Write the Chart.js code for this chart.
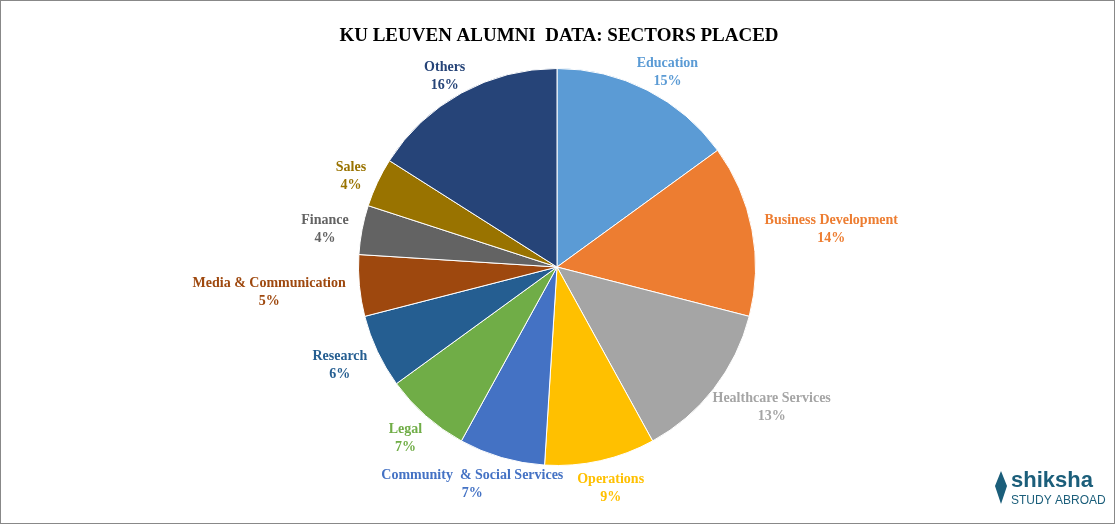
<!DOCTYPE html>
<html><head><meta charset="utf-8">
<script src="https://cdn.jsdelivr.net/npm/chart.js@4"></script>
<style>html,body{margin:0;padding:0;background:#fff}#w{position:relative;width:1115px;height:524px;box-sizing:border-box;border:1px solid #888}</style>
</head><body><div id="w"><canvas id="c"></canvas></div>
<script>
const categories=["Education","Business Development","Healthcare Services","Operations","Community  & Social Services","Legal","Research","Media & Communication","Finance","Sales","Others"];
const values=[15,14,13,9,7,7,6,5,4,4,16];
const colors=["#5B9BD5","#ED7D31","#A5A5A5","#FFC000","#4472C4","#70AD47","#255E91","#9E480E","#636363","#997300","#264478"];
const labelPlugin={id:'lbl',afterDraw(ch){
  const ctx=ch.ctx;ctx.save();
  ctx.font='bold 19px "Liberation Serif"';ctx.fillStyle='#000';ctx.textAlign='center';ctx.textBaseline='middle';
  ctx.fillText('KU LEUVEN ALUMNI  DATA: SECTORS PLACED',558,35);
  ctx.font='bold 14px "Liberation Serif"';
  ch.getDatasetMeta(0).data.forEach((a,i)=>{
    const m=(a.startAngle+a.endAngle)/2,r=a.outerRadius+14;
    const l1=categories[i],l2=values[i]+'%';
    const w=Math.max(ctx.measureText(l1).width,ctx.measureText(l2).width);
    const x=a.x+Math.cos(m)*r+Math.cos(m)*w/2, y=a.y+Math.sin(m)*r+Math.sin(m)*10+4;
    ctx.fillStyle=colors[i];
    ctx.fillText(l1,x,y-9);ctx.fillText(l2,x,y+9);
  });
  ctx.textAlign='left';ctx.fillStyle='#1b5e7a';ctx.font='bold 22px "Liberation Sans"';ctx.fillText('shiksha',1010,480);
  ctx.font='12px "Liberation Sans"';ctx.fillText('STUDY ABROAD',1010,500);
  ctx.beginPath();ctx.moveTo(1000,470);ctx.lineTo(1006,485);ctx.lineTo(1000,503);ctx.lineTo(994,485);ctx.closePath();ctx.fill();
  ctx.restore();}};
new Chart(document.getElementById('c'),{type:'pie',
 data:{labels:categories,datasets:[{data:values,backgroundColor:colors,borderColor:'#fff',borderWidth:1}]},
 options:{responsive:true,maintainAspectRatio:false,animation:false,
  layout:{padding:{top:67,bottom:57,left:356,right:357}},
  plugins:{legend:{display:false},tooltip:{enabled:false}}},
 plugins:[labelPlugin]});
</script></body></html>
